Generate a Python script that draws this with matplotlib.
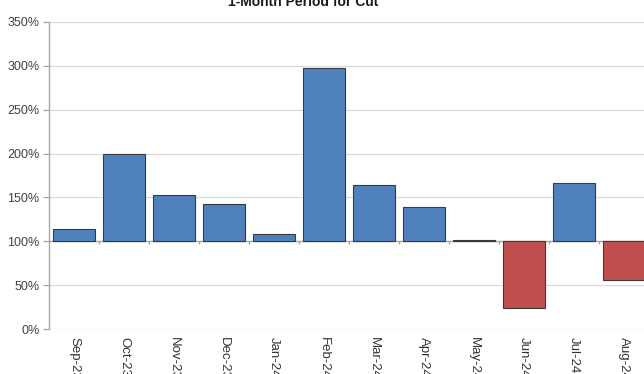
import matplotlib
matplotlib.use("Agg")
import matplotlib.pyplot as plt
import numpy as np

months = ["Sep-23", "Oct-23", "Nov-23", "Dec-23", "Jan-24", "Feb-24",
          "Mar-24", "Apr-24", "May-24", "Jun-24", "Jul-24", "Aug-24"]
ratios = [114, 200, 153, 142, 108, 298, 164, 139, 101, 24, 166, 56]
yticks = [0, 50, 100, 150, 200, 250, 300, 350]
baseline = 100

plt.rcParams["font.family"] = ["Liberation Sans", "DejaVu Sans"]

fig = plt.figure(figsize=(6.44, 3.74), dpi=100)
W, H = 644, 374
ax = fig.add_axes([49 / W, 45 / H, 600 / W, 307 / H])

x = np.arange(len(months))
vals = np.array(ratios, dtype=float)
colors = ["#4F81BD" if v >= baseline else "#C0504D" for v in vals]
ax.bar(x, vals - baseline, bottom=baseline, width=0.84, color=colors,
       edgecolor="#3a3a3a", linewidth=0.8, zorder=3)

ax.set_xlim(-0.5, len(months) - 0.5)
ax.set_ylim(0, 350)
ax.set_yticks(yticks)
ax.set_yticklabels([f"{t}%" for t in yticks])
ax.grid(axis="y", color="#D9D9D9", linewidth=0.9, zorder=0)

# category axis crosses at the baseline
ax.axhline(baseline, color="#A6A6A6", linewidth=1.0, zorder=2)
ax.vlines(x[:-1] + 0.5, baseline - 3.5, baseline, color="#A6A6A6",
          linewidth=1.0, zorder=2)

ax.set_xticks(x)
ax.set_xticklabels(months, rotation=-90, va="top", ha="center")
ax.tick_params(axis="x", length=0, pad=6, labelsize=9.5, labelcolor="#333333")
ax.tick_params(axis="y", length=4, width=0.9, color="#A6A6A6",
               labelsize=9, labelcolor="#404040", pad=3)

for s in ["top", "right", "bottom"]:
    ax.spines[s].set_visible(False)
ax.spines["left"].set_color("#A6A6A6")
ax.spines["left"].set_linewidth(1.0)

fig.text(303 / W, 1 - 2 / H, "1-Month Period for Cut", ha="center",
         va="center", fontsize=10, fontweight="bold", color="#1a1a1a")

fig.savefig("out.png", dpi=100)
